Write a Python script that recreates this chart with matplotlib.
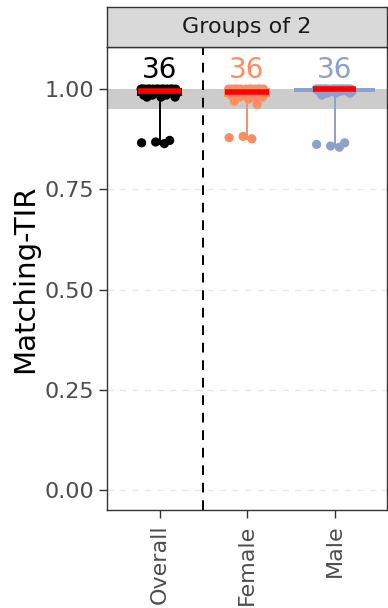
import numpy as np
import matplotlib
matplotlib.use("Agg")
import matplotlib.pyplot as plt
from matplotlib.patches import Rectangle

categories = ["Overall", "Female", "Male"]
colors = ["#000000", "#fc8d62", "#8da0cb"]
overall = [1.0]*14 + [0.995]*6 + [0.99]*6 + [0.985]*3 + [0.98]*3 + [0.872, 0.868, 0.866, 0.864]
female = [1.0]*12 + [0.995]*6 + [0.99]*6 + [0.985]*3 + [0.98]*3 + [0.975, 0.97, 0.962] + [0.882, 0.879, 0.876]
male = [1.0]*20 + [0.995]*8 + [0.99]*3 + [0.985]*1 + [0.866, 0.858, 0.862, 0.855]
series = [overall, female, male]
counts = [len(s) for s in series]
yticks = [0.00, 0.25, 0.50, 0.75, 1.00]
band = (0.95, 1.0)
strip_title = "Groups of 2"
ylabel = "Matching-TIR"

W, H = 388, 608
fig = plt.figure(figsize=(W/100, H/100), dpi=100)
left, right, top, bottom = 107/W, 387/W, 1-47/H, 1-510/H
ax = fig.add_axes([left, bottom, right-left, top-bottom])
ax.set_xlim(0.4, 3.6)
ax.set_ylim(-0.05, 1.105)

for y in yticks:
    ax.axhline(y, color="#e6e6e6", lw=0.9, ls=(0, (5, 5)), zorder=0)
ax.axhspan(band[0], band[1], color="#cccccc", lw=0, zorder=0.5)
ax.axvline(1.5, color="black", lw=1.4, ls=(0, (5, 4)), zorder=1)

box_w = [0.5, 0.5, 0.9]
for i, (vals, c) in enumerate(zip(series, colors)):
    x = i + 1
    v = np.array(vals)
    q1, med, q3 = np.percentile(v, [25, 50, 75])
    ax.plot([x, x], [v.min(), q1], color=c, lw=1.4, zorder=2)
    ax.add_patch(Rectangle((x - box_w[i]/2, q1), box_w[i], q3 - q1, facecolor="white",
                           edgecolor=c, lw=1.4, zorder=2))
    n = len(v)
    offs = (((np.arange(n) * 0.6180339) % 1.0) - 0.5) * 0.42
    ax.scatter(x + offs, v, s=44, color=c, edgecolors="none", zorder=3)
    ax.plot([x - 0.25, x + 0.25], [med, med], color="red", lw=4, solid_capstyle="butt", zorder=4)
    ax.text(x, 1.047, str(counts[i]), color=c, fontsize=20, ha="center", va="center", zorder=5)

ax.set_xticks([1, 2, 3])
ax.set_xticklabels(categories, rotation=90, fontsize=16, color="#4d4d4d")
ax.set_yticks(yticks)
ax.set_yticklabels([f"{t:.2f}" for t in yticks], fontsize=16, color="#4d4d4d")
ax.tick_params(axis="both", length=5.5, width=1, color="#333333")
ax.tick_params(axis="y", pad=3.5)
ax.tick_params(axis="x", pad=5)
for s in ax.spines.values():
    s.set_color("#333333")
    s.set_linewidth(1)
ax.set_ylabel(ylabel, fontsize=21, labelpad=4)

sax = fig.add_axes([left, 1-47/H, right-left, 40/H])
sax.set_xticks([]); sax.set_yticks([])
sax.set_facecolor("#d9d9d9")
for s in sax.spines.values():
    s.set_color("#333333")
    s.set_linewidth(1)
sax.text(0.5, 0.5, strip_title, ha="center", va="center", fontsize=16, color="#1a1a1a",
         transform=sax.transAxes)

fig.savefig("out.png", dpi=100)
